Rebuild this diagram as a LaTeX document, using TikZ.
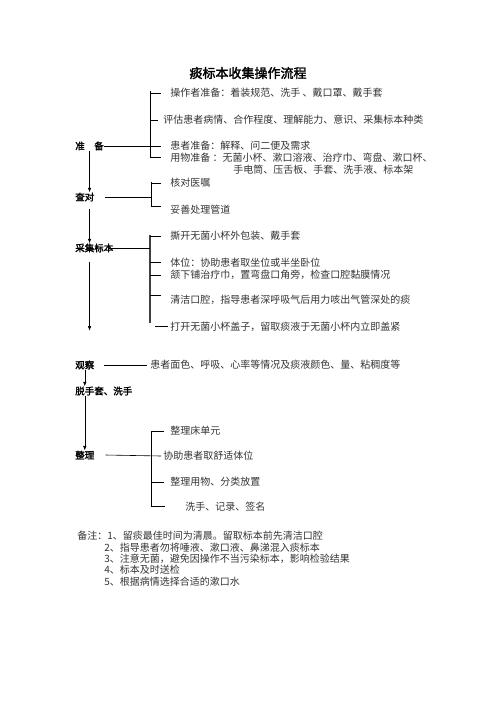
\documentclass[tikz,border=0pt]{standalone}
\usepackage{fontspec}
\setmainfont{Noto Sans CJK SC}[AutoFakeBold=2]
\usetikzlibrary{arrows.meta}
\tikzset{
  ttl/.style={font=\fontsize{13}{15}\selectfont\bfseries},
  lbl/.style={anchor=west,inner sep=0pt,font=\fontsize{9.5}{11}\selectfont\bfseries},
  itm/.style={anchor=west,inner ysep=0pt,inner xsep=9pt,font=\fontsize{10}{12}\selectfont,text=black!80},
  note/.style={anchor=west,inner sep=0pt,font=\fontsize{10}{12}\selectfont,text=black!80},
  flow/.style={-{Latex[length=4.5pt,width=3.5pt]}}
}
\begin{document}
\begin{tikzpicture}[x=1pt,y=-1pt,line width=0.6pt]
  \useasboundingbox (0,0) rectangle (496,702);
  \node[ttl] (title) at (248,73) {痰标本收集操作流程};
  \draw
    (75,146) node[lbl] (prep){准\hspace{1em}备}
    (75,197) node[lbl] (check){查对}
    (75,248) node[lbl] (collect){采集标本}
    (75,365) node[lbl] (obs){观察}
    (75,391) node[lbl] (wash){脱手套、洗手}
    (75,455) node[lbl] (tidy){整理};
  \draw
    (161,93) node[itm] (a1){操作者准备：着装规范、洗手 、戴口罩、戴手套}
    (158,120) node[itm,inner xsep=5pt] (a2){评估患者病情、合作程度、理解能力、意识、采集标本种类}
    (161,146) node[itm] (a3){患者准备：解释、问二便及需求}
    (161,157.5) node[itm] (a4){用物准备 ：无菌小杯、漱口溶液、治疗巾、弯盘、漱口杯、}
    (224,169.5) node[itm] (a5){手电筒、压舌板、手套、洗手液、标本架}
    (161,183) node[itm] (b1){核对医嘱}
    (161,210) node[itm] (b2){妥善处理管道}
    (161,236) node[itm] (c1){撕开无菌小杯外包装、戴手套}
    (161,262.5) node[itm] (c2){体位：协助患者取坐位或半坐卧位}
    (161,275) node[itm] (c3){颔下铺治疗巾，置弯盘口角旁，检查口腔黏膜情况}
    (161,300) node[itm] (c4){清洁口腔，指导患者深呼吸气后用力咳出气管深处的痰}
    (168,326.5) node[itm,inner xsep=2pt] (c5){打开无菌小杯盖子，留取痰液于无菌小杯内立即盖紧}
    (147,365) node[itm,inner xsep=3pt] (obsText){患者面色、呼吸、心率等情况及痰液颜色、量、粘稠度等}
    (164,431) node[itm,inner xsep=6pt] (d1){整理床单元}
    (161,456) node[itm,inner xsep=2pt] (d2){协助患者取舒适体位}
    (164,482) node[itm,inner xsep=6pt] (d3){整理用物、分类放置}
    (165,506.5) node[itm,inner xsep=20pt] (d4){洗手、记录、签名};
  \draw
    (77,536) node[note] (n1){备注：1、留痰最佳时间为清晨。留取标本前先清洁口腔}
    (104,547.3) node[note] (n2){2、指导患者勿将唾液、漱口液、鼻涕混入痰标本}
    (104,558.6) node[note] (n3){3、注意无菌，避免因操作不当污染标本，影响检验结果}
    (104,570) node[note] (n4){4、标本及时送检}
    (104,581.3) node[note] (n5){5、根据病情选择合适的漱口水};
  \coordinate (aT) at (150,91);
  \coordinate (aB) at (150,158);
  \coordinate (bT) at (151,182);
  \coordinate (bB) at (151,206);
  \coordinate (cT) at (150,235);
  \coordinate (cB) at (150,323);
  \coordinate (dT) at (151,431);
  \coordinate (dB) at (151,506);
  \begin{scope}[-]
    \draw (aT) -- (aB);
    \draw (aT |- a1) -- (a1.west);
    \draw (aT |- a2) -- (a2.west);
    \draw (prep.east) -- (a3.west);
    \draw (aT |- a4) -- (a4.west);
    \draw (bT) -- (bB);
    \draw (check.east) ++(10,0) -- (bT |- check);
    \draw (bT |- b1) -- (b1.west);
    \draw (bB) -- (bB -| b2.west);
    \draw[line width=1.1pt,black!75] (cT) -- (cB);
    \draw (collect.east) ++(-5,0) -- (cT |- collect);
    \draw (cT |- c1) -- (c1.west);
    \draw (cT |- c2) -- (c2.west);
    \draw (cT |- c3) -- (c3.west);
    \draw (cT |- c4) ++(0,-5) -- ++(11,0);
    \draw (cB |- c5) ++(5,0) -- (c5.west);
    \draw (obs.east) ++(9,0) -- (obsText.west);
    \draw (dT) -- (dB);
    \draw (dT |- d1) -- (d1.west);
    \draw (tidy.east) ++(11,0) -- (d2.west);
    \draw (dT |- d3) -- (d3.west);
    \draw (dB) -- (dB -| d4.west);
  \end{scope}
  \begin{scope}[flow]
    \draw (prep.south) -- (prep.south |- check.north);
    \draw (prep.south |- check.south) ++(0,7) -- (prep.south |- collect.north);
    \draw (prep.south |- collect.south) ++(0,9) -- ++(0,69);
    \draw (obs.south) -- (obs.south |- wash.north);
    \draw (obs.south |- wash.south) -- (obs.south |- tidy.north);
  \end{scope}
\end{tikzpicture}
\end{document}
